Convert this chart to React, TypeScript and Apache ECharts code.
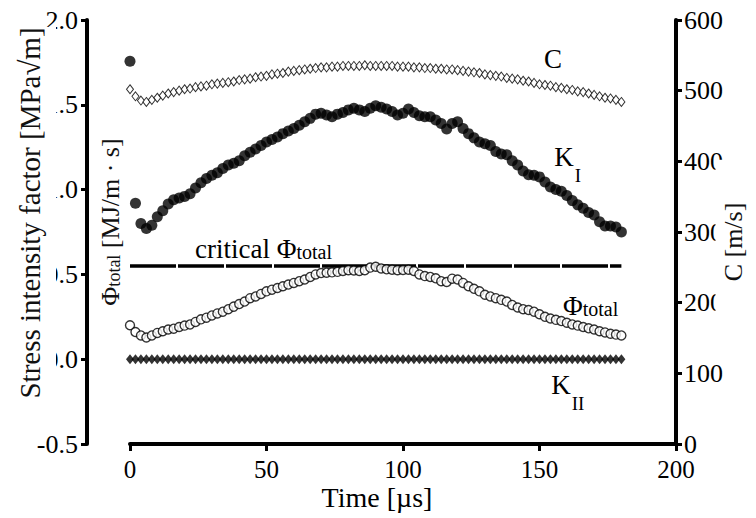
import React, { useEffect, useRef } from "react";
import * as echarts from "echarts";

// Time [µs]
const timeUs = [
  0, 2, 4, 6, 8, 10, 12, 14, 16, 18,
  20, 22, 24, 26, 28, 30, 32, 34, 36, 38,
  40, 42, 44, 46, 48, 50, 52, 54, 56, 58,
  60, 62, 64, 66, 68, 70, 72, 74, 76, 78,
  80, 82, 84, 86, 88, 90, 92, 94, 96, 98,
  100, 102, 104, 106, 108, 110, 112, 114, 116, 118,
  120, 122, 124, 126, 128, 130, 132, 134, 136, 138,
  140, 142, 144, 146, 148, 150, 152, 154, 156, 158,
  160, 162, 164, 166, 168, 170, 172, 174, 176, 178,
  180,
];

// Stress intensity factor K_I [MPa√m]
const kI = [
  1.757, 0.92, 0.8, 0.77, 0.79, 0.84, 0.875, 0.915, 0.94, 0.95,
  0.96, 0.975, 1.01, 1.04, 1.065, 1.085, 1.1, 1.125, 1.145, 1.155,
  1.17, 1.2, 1.22, 1.24, 1.26, 1.28, 1.295, 1.31, 1.33, 1.345,
  1.36, 1.38, 1.4, 1.42, 1.445, 1.45, 1.44, 1.43, 1.445, 1.455,
  1.47, 1.48, 1.47, 1.46, 1.48, 1.495, 1.485, 1.475, 1.46, 1.44,
  1.45, 1.475, 1.455, 1.435, 1.43, 1.43, 1.41, 1.39, 1.357, 1.39,
  1.4, 1.36, 1.33, 1.305, 1.28, 1.27, 1.26, 1.225, 1.21, 1.205,
  1.17, 1.145, 1.11, 1.087, 1.085, 1.075, 1.045, 1.015, 1.0, 0.99,
  0.965, 0.935, 0.91, 0.89, 0.865, 0.85, 0.81, 0.785, 0.785, 0.78,
  0.75,
];

// Φ_total [MJ/m·s]
const phiTotal = [
  0.2, 0.16, 0.14, 0.128, 0.14, 0.155, 0.165, 0.175, 0.18, 0.19,
  0.198, 0.205, 0.22, 0.235, 0.245, 0.258, 0.27, 0.28, 0.295, 0.31,
  0.325, 0.34, 0.36, 0.37, 0.385, 0.4, 0.41, 0.42, 0.43, 0.44,
  0.45, 0.46, 0.47, 0.485, 0.5, 0.508, 0.51, 0.512, 0.515, 0.52,
  0.525, 0.523, 0.52, 0.525, 0.54, 0.545, 0.535, 0.53, 0.528, 0.525,
  0.526, 0.528, 0.52, 0.5, 0.49, 0.485, 0.477, 0.46, 0.455, 0.475,
  0.47, 0.45, 0.43, 0.415, 0.4, 0.38, 0.37, 0.36, 0.35, 0.34,
  0.32, 0.305, 0.295, 0.29, 0.28, 0.265, 0.25, 0.24, 0.232, 0.225,
  0.215, 0.205, 0.198, 0.19, 0.182, 0.175, 0.165, 0.158, 0.15, 0.145,
  0.14,
];

// Crack speed C [m/s]
const crackSpeed = [
  502, 492, 486, 484, 487, 490, 493, 496, 498, 500,
  502, 503, 505, 506, 507, 509, 510, 511, 512, 513,
  515, 516, 517, 519, 520, 521, 523, 524, 525, 527,
  528, 529, 530, 531, 532, 533, 533, 534, 534, 535,
  535, 535, 535, 536, 535, 535, 535, 535, 535, 534,
  534, 534, 533, 533, 532, 532, 531, 531, 530, 530,
  529, 528, 527, 526, 525, 523, 522, 521, 520, 518,
  517, 516, 514, 513, 511, 509, 508, 507, 505, 504,
  502, 501, 499, 498, 496, 494, 492, 490, 489, 487,
  484,
];

// Stress intensity factor K_II [MPa√m]
const kII = [
  0, 0, 0, 0, 0, 0, 0, 0, 0, 0,
  0, 0, 0, 0, 0, 0, 0, 0, 0, 0,
  0, 0, 0, 0, 0, 0, 0, 0, 0, 0,
  0, 0, 0, 0, 0, 0, 0, 0, 0, 0,
  0, 0, 0, 0, 0, 0, 0, 0, 0, 0,
  0, 0, 0, 0, 0, 0, 0, 0, 0, 0,
  0, 0, 0, 0, 0, 0, 0, 0, 0, 0,
  0, 0, 0, 0, 0, 0, 0, 0, 0, 0,
  0, 0, 0, 0, 0, 0, 0, 0, 0, 0,
  0,
];

// critical Φ_total level and its time span
const criticalPhi = 0.55;
const criticalSpan = [0, 180];

const FONT = "'Liberation Serif', 'Times New Roman', serif";
const INK = "#000";

const zip = (ys: number[]) => timeUs.map((t, i) => [t, ys[i]]);

export default function App() {
  const ref = useRef<HTMLDivElement>(null);

  useEffect(() => {
    document.body.style.margin = "0";
    if (!ref.current) return;
    const chart = echarts.init(ref.current, null, { renderer: "svg" });

    const axisFont = { color: INK, fontFamily: FONT, fontSize: 25 };

    chart.setOption({
      animation: false,
      backgroundColor: "#fff",
      grid: { left: 130, right: 80, top: 20, bottom: 74, containLabel: false },
      xAxis: {
        type: "value",
        min: 0,
        max: 200,
        interval: 50,
        axisLine: { onZero: false, lineStyle: { color: INK, width: 4 } },
        axisTick: { length: 7, lineStyle: { color: INK, width: 3 } },
        axisLabel: { ...axisFont, margin: 13 },
        splitLine: { show: false },
      },
      yAxis: [
        {
          type: "value",
          position: "left",
          min: -0.5,
          max: 2,
          interval: 0.5,
          offset: 43,
          axisLine: { show: true, onZero: false, lineStyle: { color: INK, width: 4 } },
          axisTick: { show: true, length: 6, lineStyle: { color: INK, width: 3 } },
          axisLabel: { ...axisFont, fontSize: 26, margin: 9, formatter: (v: number) => v.toFixed(1) },
          splitLine: { show: false },
        },
        {
          type: "value",
          position: "right",
          min: 0,
          max: 600,
          interval: 100,
          axisLine: { show: true, onZero: false, lineStyle: { color: INK, width: 4 } },
          axisTick: { show: true, length: 6, lineStyle: { color: INK, width: 3 } },
          axisLabel: { ...axisFont, fontSize: 26, margin: 8 },
          splitLine: { show: false },
        },
      ],
      series: [
        {
          name: "critical Φtotal",
          type: "line",
          yAxisIndex: 0,
          data: criticalSpan.map((t) => [t, criticalPhi]),
          showSymbol: false,
          silent: true,
          lineStyle: { color: INK, width: 3.5, type: [46, 2] },
          z: 1,
        },
        {
          name: "KII",
          type: "scatter",
          yAxisIndex: 0,
          data: zip(kII),
          symbol: "diamond",
          symbolSize: [8, 10],
          itemStyle: { color: INK },
          silent: true,
          z: 2,
        },
        {
          name: "Φtotal",
          type: "scatter",
          yAxisIndex: 0,
          data: zip(phiTotal),
          symbol: "circle",
          symbolSize: 9,
          itemStyle: { color: "#fff", borderColor: INK, borderWidth: 1.4 },
          silent: true,
          z: 3,
        },
        {
          name: "KI",
          type: "scatter",
          yAxisIndex: 0,
          data: zip(kI),
          symbol: "circle",
          symbolSize: 11,
          itemStyle: { color: INK },
          silent: true,
          z: 4,
        },
        {
          name: "C",
          type: "scatter",
          yAxisIndex: 1,
          data: zip(crackSpeed),
          symbol: "diamond",
          symbolSize: [7, 9],
          itemStyle: { color: "#fff", borderColor: INK, borderWidth: 1 },
          silent: true,
          z: 5,
        },
      ],
      graphic: [
        {
          type: "rect",
          z: 90,
          shape: { x: 4, y: 27, width: 52, height: 392 },
          style: { fill: "#fff" },
        },
        {
          type: "text",
          x: 30,
          y: 213,
          rotation: Math.PI / 2,
          z: 100,
          style: {
            text: "Stress intensity factor [MPa√m]",
            font: `29px ${FONT}`,
            fill: "#111",
            align: "center",
            verticalAlign: "middle",
          },
        },
        {
          type: "text",
          x: 108,
          y: 222,
          rotation: Math.PI / 2,
          z: 100,
          style: {
            text: "{a|Φ}{s|total}{a| [MJ/m · s]}",
            align: "center",
            verticalAlign: "middle",
            rich: {
              a: { font: `26px ${FONT}`, fill: "#111", verticalAlign: "bottom", lineHeight: 30 },
              s: { font: `18px ${FONT}`, fill: "#111", verticalAlign: "bottom", lineHeight: 28 },
            },
          },
        },
        {
          type: "text",
          x: 733,
          y: 242,
          rotation: Math.PI / 2,
          z: 100,
          style: {
            text: "C [m/s]",
            font: `26px ${FONT}`,
            fill: "#111",
            align: "center",
            verticalAlign: "middle",
            backgroundColor: "#fff",
            padding: [3, 43, 6, 43],
          },
        },
        {
          type: "text",
          x: 377,
          y: 497,
          z: 100,
          style: {
            text: "Time [µs]",
            font: `28px ${FONT}`,
            fill: INK,
            align: "center",
            verticalAlign: "middle",
          },
        },
        {
          type: "text",
          x: 553,
          y: 59,
          z: 100,
          style: { text: "C", font: `27px ${FONT}`, fill: INK, align: "center", verticalAlign: "middle" },
        },
        {
          type: "text",
          x: 564,
          y: 157,
          z: 100,
          style: { text: "K", font: `27px ${FONT}`, fill: INK, align: "center", verticalAlign: "middle" },
        },
        {
          type: "text",
          x: 578,
          y: 175,
          z: 100,
          style: { text: "I", font: `19px ${FONT}`, fill: INK, align: "center", verticalAlign: "middle" },
        },
        {
          type: "text",
          x: 195,
          y: 247,
          z: 100,
          style: {
            text: "{a|critical Φ}{s|total}",
            align: "left",
            verticalAlign: "middle",
            rich: {
              a: { font: `27px ${FONT}`, fill: INK, verticalAlign: "bottom", lineHeight: 30 },
              s: { font: `20px ${FONT}`, fill: INK, verticalAlign: "bottom", lineHeight: 28 },
            },
          },
        },
        {
          type: "text",
          x: 563,
          y: 304,
          z: 100,
          style: {
            text: "{a|Φ}{s|total}",
            align: "left",
            verticalAlign: "middle",
            rich: {
              a: { font: `27px ${FONT}`, fill: INK, verticalAlign: "bottom", lineHeight: 30 },
              s: { font: `20px ${FONT}`, fill: INK, verticalAlign: "bottom", lineHeight: 28 },
            },
          },
        },
        {
          type: "text",
          x: 561,
          y: 385,
          z: 100,
          style: { text: "K", font: `27px ${FONT}`, fill: INK, align: "center", verticalAlign: "middle" },
        },
        {
          type: "text",
          x: 578,
          y: 403,
          z: 100,
          style: { text: "II", font: `19px ${FONT}`, fill: INK, align: "center", verticalAlign: "middle" },
        },
      ],
    });

    return () => chart.dispose();
  }, []);

  return <div ref={ref} style={{ width: 756, height: 518 }} />;
}
